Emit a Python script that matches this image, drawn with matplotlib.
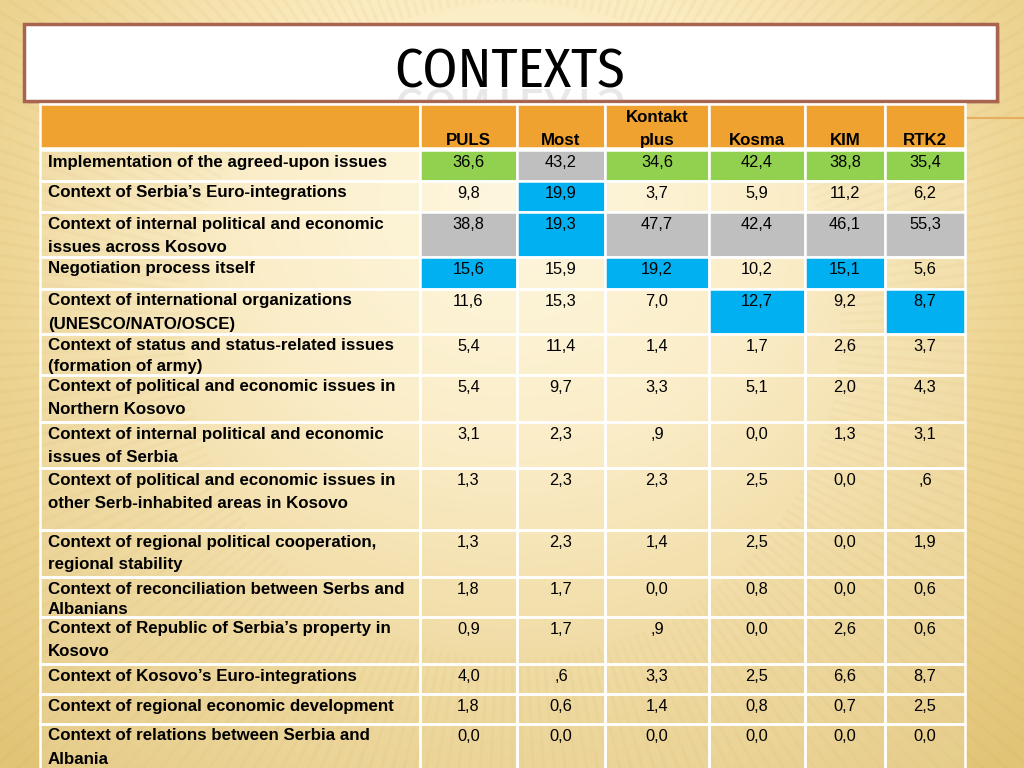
import numpy as np
import matplotlib.pyplot as plt
from matplotlib import font_manager as fm
from matplotlib.patches import Rectangle, PathPatch
from matplotlib.textpath import TextPath
from matplotlib.font_manager import FontProperties
from matplotlib.transforms import Affine2D
from matplotlib.colors import LinearSegmentedColormap

# ---- data ----
title = 'CONTEXTS'
channels = ['PULS', 'Most', 'Kontakt\nplus', 'Kosma', 'KIM', 'RTK2']
contexts = [
    'Implementation of the agreed-upon issues',
    'Context of Serbia\u2019s Euro-integrations',
    'Context of internal political and economic\nissues across Kosovo',
    'Negotiation process itself',
    'Context of international organizations\n(UNESCO/NATO/OSCE)',
    'Context of status and status-related issues\n(formation of army)',
    'Context of political and economic issues in\nNorthern Kosovo',
    'Context of internal political and economic\nissues of Serbia',
    'Context of political and economic issues in\nother Serb-inhabited areas in Kosovo',
    'Context of regional political cooperation,\nregional stability',
    'Context of reconciliation between Serbs and\nAlbanians',
    'Context of Republic of Serbia\u2019s property in\nKosovo',
    'Context of Kosovo\u2019s Euro-integrations',
    'Context of regional economic development',
    'Context of relations between Serbia and\nAlbania',
]
puls    = ['36,6', '9,8', '38,8', '15,6', '11,6', '5,4', '5,4', '3,1', '1,3', '1,3', '1,8', '0,9', '4,0', '1,8', '0,0']
most    = ['43,2', '19,9', '19,3', '15,9', '15,3', '11,4', '9,7', '2,3', '2,3', '2,3', '1,7', '1,7', ',6', '0,6', '0,0']
kontakt = ['34,6', '3,7', '47,7', '19,2', '7,0', '1,4', '3,3', ',9', '2,3', '1,4', '0,0', ',9', '3,3', '1,4', '0,0']
kosma   = ['42,4', '5,9', '42,4', '10,2', '12,7', '1,7', '5,1', '0,0', '2,5', '2,5', '0,8', '0,0', '2,5', '0,8', '0,0']
kim     = ['38,8', '11,2', '46,1', '15,1', '9,2', '2,6', '2,0', '1,3', '0,0', '0,0', '0,0', '2,6', '6,6', '0,7', '0,0']
rtk2    = ['35,4', '6,2', '55,3', '5,6', '8,7', '3,7', '4,3', '3,1', ',6', '1,9', '0,6', '0,6', '8,7', '2,5', '0,0']
columns = [puls, most, kontakt, kosma, kim, rtk2]

# cell highlight per channel: g = green, s = grey, b = blue, . = none
marks = ['g.sb', 'sbb', 'g.sb', 'g.s.b', 'g.sb', 'g.s.b']

# ---- layout (pixels) ----
col_edges = [40, 420, 517, 605, 709, 805, 885, 965]
head_top, head_bot = 104, 148
row_heights = [31, 31, 45, 32, 45, 41, 47, 46, 62, 47, 40, 47, 30, 30, 51]
line_gap = [23, 23, 23, 23, 23, 21, 23, 23, 23, 23, 20, 23, 23, 23, 23]
fills = {'g': '#92D050', 's': '#BFBFBF', 'b': '#00B0F0'}
orange = '#EFA230'
plain = (1, 1, 1, 0.14)

fig = plt.figure(figsize=(10.24, 7.68), dpi=100)
ax = fig.add_axes([0, 0, 1, 1])
ax.set_xlim(0, 1024)
ax.set_ylim(768, 0)
ax.axis('off')

# background: warm radial gradient with faint sunburst stripes
yy, xx = np.mgrid[0:768, 0:1024]
d = np.hypot((xx - 512) / 1.1, (yy - 200)) / 720
bg = LinearSegmentedColormap.from_list('bg', ['#FEF6DA', '#FBEBC0', '#EDD492', '#E2C477'])
ax.imshow(np.clip(d, 0, 1), cmap=bg, vmin=0, vmax=1, extent=(0, 1024, 768, 0), zorder=0)
for a in np.linspace(0, 2 * np.pi, 260, endpoint=False):
    ax.plot([512 + 330 * np.cos(a), 512 + 1400 * np.cos(a)],
            [330 + 330 * np.sin(a), 330 + 1400 * np.sin(a)],
            color='#C9A24E', alpha=0.07, lw=2.2, zorder=0.5)
ax.plot([967, 1024], [118, 118], color='#E6AE5E', lw=1.5, zorder=1)

fonts = ['Liberation Sans', 'DejaVu Sans']

# condensed face for the title: pick the installed one closest to the reference proportions
present = set(f.name for f in fm.fontManager.ttflist)
candidates = ['Liberation Sans Narrow', 'Arial Narrow', 'Archivo Narrow', 'PT Sans Narrow',
              'Roboto Condensed', 'Fira Sans Condensed', 'IBM Plex Sans Condensed',
              'Barlow Condensed', 'Encode Sans Condensed', 'Asap Condensed',
              'Sofia Sans Condensed', 'Open Sans Condensed', 'Oswald']
best, best_score = 'DejaVu Sans', 1e9
for name in candidates:
    if name not in present:
        continue
    e = TextPath((0, 0), title, size=100, prop=FontProperties(family=name)).get_extents()
    score = abs(e.width / e.height - 226 / 40.0)
    if score < best_score:
        best, best_score = name, score
tfp = FontProperties(family=best)
e = TextPath((0, 0), title, size=100, prop=tfp).get_extents()
title_px = 40 * 100 / e.height

# title box
ax.add_patch(Rectangle((27, 27), 973, 77, facecolor='#7A5A40', alpha=0.15, lw=0, zorder=1))
box = Rectangle((24, 24), 973, 77, facecolor='white', edgecolor='#A9644F', lw=2.5, zorder=2)
ax.add_patch(box)
ax.text(510, 87, title, fontsize=title_px * 0.72, family=[best, 'DejaVu Sans'], color='black',
        ha='center', va='baseline', zorder=4)
tp = TextPath((0, 0), title, size=title_px, prop=tfp)
ext = tp.get_extents()
refl = tp.transformed(Affine2D().translate(-(ext.x0 + ext.x1) / 2, 0).translate(510, 89))
rp = PathPatch(refl, facecolor='#909090', lw=0, alpha=0.2, zorder=3)
ax.add_patch(rp)
rp.set_clip_path(box)

# header row
for i in range(len(col_edges) - 1):
    x0, x1 = col_edges[i], col_edges[i + 1]
    ax.add_patch(Rectangle((x0, head_top), x1 - x0, head_bot - head_top,
                           facecolor=orange, edgecolor='white', lw=1.8, zorder=2))
    if i > 0:
        lines = channels[i - 1].split('\n')
        for k, ln in enumerate(reversed(lines)):
            ax.text((x0 + x1) / 2, 145 - 23 * k, ln, fontsize=12.2, fontweight='bold',
                    family=fonts, ha='center', va='baseline', zorder=4)

# body rows
top = head_bot + 2
for r, label in enumerate(contexts):
    h = row_heights[r]
    ax.add_patch(Rectangle((col_edges[0], top), col_edges[1] - col_edges[0], h,
                           facecolor=plain, edgecolor='white', lw=1.8, zorder=2))
    for k, ln in enumerate(label.split('\n')):
        ax.text(48, top + 16.5 + line_gap[r] * k, ln, fontsize=12.2, fontweight='bold',
                family=fonts, ha='left', va='baseline', zorder=4)
    for c, vals in enumerate(columns):
        x0, x1 = col_edges[c + 1], col_edges[c + 2]
        m = marks[c][r] if r < len(marks[c]) else '.'
        fc = fills.get(m, plain)
        ax.add_patch(Rectangle((x0, top), x1 - x0, h, facecolor=fc,
                               edgecolor='white', lw=1.8, zorder=2))
        ax.text((x0 + x1) / 2, top + 17, vals[r], fontsize=11.8,
                family=fonts, ha='center', va='baseline', zorder=4)
    top += h

fig.savefig('out.png', dpi=100)
